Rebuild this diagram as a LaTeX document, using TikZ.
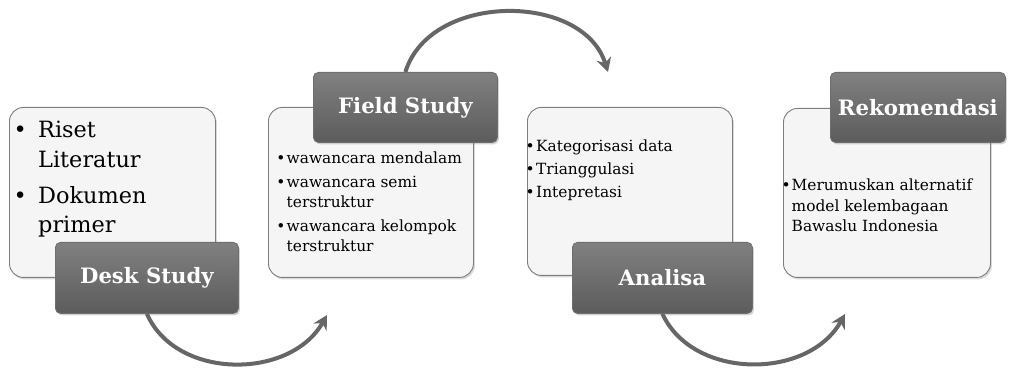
\documentclass[tikz,border=0pt]{standalone}
\usepackage{fontspec}
\setmainfont{DejaVu Serif}
\usetikzlibrary{arrows.meta,shadows}
\definecolor{lightfill}{HTML}{F5F5F5}
\definecolor{lightline}{HTML}{7E7E7E}
\definecolor{darktop}{HTML}{808080}
\definecolor{darkbot}{HTML}{5C5C5C}
\definecolor{darkline}{HTML}{6E6E6E}
\definecolor{arrowcol}{HTML}{666666}
\newcommand\bitem[2]{\par\hangindent=#1\hangafter=1\noindent\makebox[#1][c]{\textbullet}#2\par}
\newcommand\blist[3]{\parbox[t]{#1}{\raggedright\setlength\parskip{#2}#3}}
\tikzset{
  panel/.style={draw=lightline, line width=0.9pt, fill=lightfill, rounded corners=14pt,
    drop shadow={opacity=0.3, shadow xshift=1.5pt, shadow yshift=-2pt},
    inner sep=0pt, anchor=north west},
  headbox/.style={draw=darkline, line width=0.8pt, top color=darktop, bottom color=darkbot,
    rounded corners=5pt, text=white, font=\fontsize{21.2}{25}\selectfont\bfseries,
    drop shadow={opacity=0.35, shadow xshift=1.5pt, shadow yshift=-2pt},
    inner sep=0pt, anchor=north west},
  flow/.style={draw=arrowcol, line width=4pt, -{Stealth[length=14pt,width=15pt]}},
  itemtext/.style={anchor=base west, inner sep=0pt},
  smalltext/.style={font=\fontsize{15.4}{20.5}\selectfont},
  bigtext/.style={font=\fontsize{22.4}{29.5}\selectfont},
}
\begin{document}
\begin{tikzpicture}[x=1pt,y=-1pt]
\useasboundingbox (0,0) rectangle (1013,371);
% panel 1
\node[panel, minimum width=206pt, minimum height=170pt] (p1) at (9,107) {};
\node[itemtext, bigtext] (t1) at (2,138)
  {\blist{200pt}{6.5pt}{\bitem{36pt}{Riset\newline Literatur}\bitem{36pt}{Dokumen\newline primer}}};
\node[headbox, minimum width=183pt, minimum height=71pt] (h1) at (55,242) {Desk Study};
% panel 2
\node[panel, minimum width=205pt, minimum height=170pt] (p2) at (268,107) {};
\node[headbox, minimum width=184pt, minimum height=70pt] (h2) at (313,72) {Field Study};
\node[itemtext, smalltext] (t2) at (275,164)
  {\blist{200pt}{3pt}{\bitem{11.5pt}{wawancara mendalam}\bitem{11.5pt}{wawancara semi\newline terstruktur}\bitem{11.5pt}{wawancara kelompok\newline terstruktur}}};
% panel 3
\node[panel, minimum width=205pt, minimum height=168pt] (p3) at (527,107) {};
\node[itemtext, smalltext] (t3) at (524,152)
  {\blist{200pt}{2.5pt}{\bitem{12pt}{Kategorisasi data}\bitem{12pt}{Trianggulasi}\bitem{12pt}{Intepretasi}}};
\node[headbox, minimum width=180pt, minimum height=71pt] (h3) at (572,242) {Analisa};
% panel 4
\node[panel, minimum width=207pt, minimum height=169pt] (p4) at (783,108) {};
\node[headbox, minimum width=175pt, minimum height=70pt] (h4) at (830,72) {Rekomendasi};
\node[itemtext, smalltext] (t4) at (780.5,191)
  {\blist{210pt}{0pt}{\bitem{11pt}{Merumuskan alternatif\newline model kelembagaan\newline Bawaslu Indonesia}}};
% arrows
\coordinate (e1) at (327,315);
\coordinate (e2) at (608,72);
\coordinate (e3) at (845,314);
\draw[flow] (h1.south) .. controls (176,380) and (290,380) .. (e1);
\draw[flow] (h2.north) .. controls (430,-8) and (583,-8) .. (e2);
\draw[flow] (h3.south) .. controls (693,380) and (808,380) .. (e3);
\end{tikzpicture}
\end{document}
